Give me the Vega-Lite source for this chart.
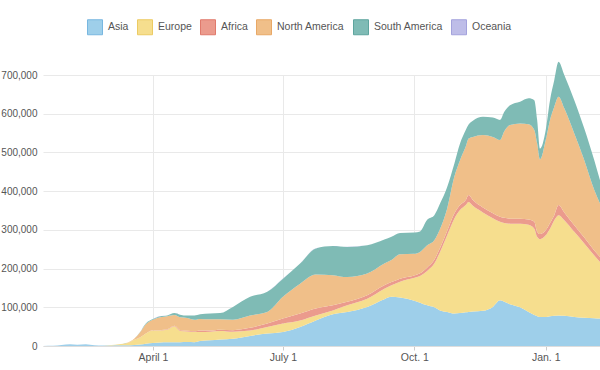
{
  "$schema": "https://vega.github.io/schema/vega-lite/v6.json",
  "width": 557,
  "height": 271,
  "autosize": {"type": "none"},
  "padding": {"left": 43, "top": 75, "right": 0, "bottom": 24},
  "background": "white",
  "config": {"view": {"stroke": null}, "font": "Liberation Sans"},
  "data": {"values": [
{"date":"2020-01-15","continent":"Asia","cases":100},{"date":"2020-01-15","continent":"Europe","cases":0},{"date":"2020-01-15","continent":"Africa","cases":0},{"date":"2020-01-15","continent":"North America","cases":0},{"date":"2020-01-15","continent":"South America","cases":0},{"date":"2020-01-15","continent":"Oceania","cases":0},
{"date":"2020-01-22","continent":"Asia","cases":500},{"date":"2020-01-22","continent":"Europe","cases":0},{"date":"2020-01-22","continent":"Africa","cases":0},{"date":"2020-01-22","continent":"North America","cases":0},{"date":"2020-01-22","continent":"South America","cases":0},{"date":"2020-01-22","continent":"Oceania","cases":0},
{"date":"2020-01-28","continent":"Asia","cases":2800},{"date":"2020-01-28","continent":"Europe","cases":0},{"date":"2020-01-28","continent":"Africa","cases":0},{"date":"2020-01-28","continent":"North America","cases":0},{"date":"2020-01-28","continent":"South America","cases":0},{"date":"2020-01-28","continent":"Oceania","cases":0},
{"date":"2020-02-03","continent":"Asia","cases":4500},{"date":"2020-02-03","continent":"Europe","cases":0},{"date":"2020-02-03","continent":"Africa","cases":0},{"date":"2020-02-03","continent":"North America","cases":0},{"date":"2020-02-03","continent":"South America","cases":0},{"date":"2020-02-03","continent":"Oceania","cases":0},
{"date":"2020-02-08","continent":"Asia","cases":3200},{"date":"2020-02-08","continent":"Europe","cases":0},{"date":"2020-02-08","continent":"Africa","cases":0},{"date":"2020-02-08","continent":"North America","cases":0},{"date":"2020-02-08","continent":"South America","cases":0},{"date":"2020-02-08","continent":"Oceania","cases":0},
{"date":"2020-02-14","continent":"Asia","cases":4800},{"date":"2020-02-14","continent":"Europe","cases":0},{"date":"2020-02-14","continent":"Africa","cases":0},{"date":"2020-02-14","continent":"North America","cases":0},{"date":"2020-02-14","continent":"South America","cases":0},{"date":"2020-02-14","continent":"Oceania","cases":0},
{"date":"2020-02-20","continent":"Asia","cases":2000},{"date":"2020-02-20","continent":"Europe","cases":0},{"date":"2020-02-20","continent":"Africa","cases":0},{"date":"2020-02-20","continent":"North America","cases":0},{"date":"2020-02-20","continent":"South America","cases":0},{"date":"2020-02-20","continent":"Oceania","cases":0},
{"date":"2020-02-26","continent":"Asia","cases":1200},{"date":"2020-02-26","continent":"Europe","cases":300},{"date":"2020-02-26","continent":"Africa","cases":0},{"date":"2020-02-26","continent":"North America","cases":0},{"date":"2020-02-26","continent":"South America","cases":0},{"date":"2020-02-26","continent":"Oceania","cases":0},
{"date":"2020-03-03","continent":"Asia","cases":1500},{"date":"2020-03-03","continent":"Europe","cases":1000},{"date":"2020-03-03","continent":"Africa","cases":0},{"date":"2020-03-03","continent":"North America","cases":100},{"date":"2020-03-03","continent":"South America","cases":0},{"date":"2020-03-03","continent":"Oceania","cases":0},
{"date":"2020-03-08","continent":"Asia","cases":1800},{"date":"2020-03-08","continent":"Europe","cases":2500},{"date":"2020-03-08","continent":"Africa","cases":0},{"date":"2020-03-08","continent":"North America","cases":300},{"date":"2020-03-08","continent":"South America","cases":0},{"date":"2020-03-08","continent":"Oceania","cases":0},
{"date":"2020-03-14","continent":"Asia","cases":2000},{"date":"2020-03-14","continent":"Europe","cases":5500},{"date":"2020-03-14","continent":"Africa","cases":50},{"date":"2020-03-14","continent":"North America","cases":1000},{"date":"2020-03-14","continent":"South America","cases":100},{"date":"2020-03-14","continent":"Oceania","cases":50},
{"date":"2020-03-19","continent":"Asia","cases":2500},{"date":"2020-03-19","continent":"Europe","cases":13500},{"date":"2020-03-19","continent":"Africa","cases":200},{"date":"2020-03-19","continent":"North America","cases":3000},{"date":"2020-03-19","continent":"South America","cases":300},{"date":"2020-03-19","continent":"Oceania","cases":100},
{"date":"2020-03-23","continent":"Asia","cases":4000},{"date":"2020-03-23","continent":"Europe","cases":18000},{"date":"2020-03-23","continent":"Africa","cases":300},{"date":"2020-03-23","continent":"North America","cases":13000},{"date":"2020-03-23","continent":"South America","cases":700},{"date":"2020-03-23","continent":"Oceania","cases":300},
{"date":"2020-03-27","continent":"Asia","cases":6000},{"date":"2020-03-27","continent":"Europe","cases":26000},{"date":"2020-03-27","continent":"Africa","cases":500},{"date":"2020-03-27","continent":"North America","cases":23500},{"date":"2020-03-27","continent":"South America","cases":2000},{"date":"2020-03-27","continent":"Oceania","cases":400},
{"date":"2020-04-01","continent":"Asia","cases":8000},{"date":"2020-04-01","continent":"Europe","cases":32000},{"date":"2020-04-01","continent":"Africa","cases":1000},{"date":"2020-04-01","continent":"North America","cases":27000},{"date":"2020-04-01","continent":"South America","cases":1500},{"date":"2020-04-01","continent":"Oceania","cases":400},
{"date":"2020-04-06","continent":"Asia","cases":9000},{"date":"2020-04-06","continent":"Europe","cases":31000},{"date":"2020-04-06","continent":"Africa","cases":1000},{"date":"2020-04-06","continent":"North America","cases":33000},{"date":"2020-04-06","continent":"South America","cases":3000},{"date":"2020-04-06","continent":"Oceania","cases":200},
{"date":"2020-04-11","continent":"Asia","cases":9500},{"date":"2020-04-11","continent":"Europe","cases":32500},{"date":"2020-04-11","continent":"Africa","cases":1000},{"date":"2020-04-11","continent":"North America","cases":34000},{"date":"2020-04-11","continent":"South America","cases":2000},{"date":"2020-04-11","continent":"Oceania","cases":100},
{"date":"2020-04-16","continent":"Asia","cases":9500},{"date":"2020-04-16","continent":"Europe","cases":41500},{"date":"2020-04-16","continent":"Africa","cases":1000},{"date":"2020-04-16","continent":"North America","cases":28000},{"date":"2020-04-16","continent":"South America","cases":5000},{"date":"2020-04-16","continent":"Oceania","cases":50},
{"date":"2020-04-20","continent":"Asia","cases":10000},{"date":"2020-04-20","continent":"Europe","cases":29000},{"date":"2020-04-20","continent":"Africa","cases":2000},{"date":"2020-04-20","continent":"North America","cases":33000},{"date":"2020-04-20","continent":"South America","cases":7000},{"date":"2020-04-20","continent":"Oceania","cases":30},
{"date":"2020-04-25","continent":"Asia","cases":10500},{"date":"2020-04-25","continent":"Europe","cases":27000},{"date":"2020-04-25","continent":"Africa","cases":2000},{"date":"2020-04-25","continent":"North America","cases":33000},{"date":"2020-04-25","continent":"South America","cases":6000},{"date":"2020-04-25","continent":"Oceania","cases":20},
{"date":"2020-04-30","continent":"Asia","cases":10000},{"date":"2020-04-30","continent":"Europe","cases":26000},{"date":"2020-04-30","continent":"Africa","cases":2000},{"date":"2020-04-30","continent":"North America","cases":30000},{"date":"2020-04-30","continent":"South America","cases":11000},{"date":"2020-04-30","continent":"Oceania","cases":20},
{"date":"2020-05-04","continent":"Asia","cases":13000},{"date":"2020-05-04","continent":"Europe","cases":23000},{"date":"2020-05-04","continent":"Africa","cases":4000},{"date":"2020-05-04","continent":"North America","cases":30000},{"date":"2020-05-04","continent":"South America","cases":12000},{"date":"2020-05-04","continent":"Oceania","cases":20},
{"date":"2020-05-11","continent":"Asia","cases":15000},{"date":"2020-05-11","continent":"Europe","cases":22000},{"date":"2020-05-11","continent":"Africa","cases":3000},{"date":"2020-05-11","continent":"North America","cases":29000},{"date":"2020-05-11","continent":"South America","cases":15000},{"date":"2020-05-11","continent":"Oceania","cases":20},
{"date":"2020-05-18","continent":"Asia","cases":17000},{"date":"2020-05-18","continent":"Europe","cases":22000},{"date":"2020-05-18","continent":"Africa","cases":3000},{"date":"2020-05-18","continent":"North America","cases":27000},{"date":"2020-05-18","continent":"South America","cases":16000},{"date":"2020-05-18","continent":"Oceania","cases":20},
{"date":"2020-05-27","continent":"Asia","cases":19000},{"date":"2020-05-27","continent":"Europe","cases":18000},{"date":"2020-05-27","continent":"Africa","cases":4000},{"date":"2020-05-27","continent":"North America","cases":27000},{"date":"2020-05-27","continent":"South America","cases":33000},{"date":"2020-05-27","continent":"Oceania","cases":20},
{"date":"2020-06-08","continent":"Asia","cases":26000},{"date":"2020-06-08","continent":"Europe","cases":14000},{"date":"2020-06-08","continent":"Africa","cases":7000},{"date":"2020-06-08","continent":"North America","cases":32000},{"date":"2020-06-08","continent":"South America","cases":48000},{"date":"2020-06-08","continent":"Oceania","cases":20},
{"date":"2020-06-20","continent":"Asia","cases":32000},{"date":"2020-06-20","continent":"Europe","cases":17000},{"date":"2020-06-20","continent":"Africa","cases":9000},{"date":"2020-06-20","continent":"North America","cases":30000},{"date":"2020-06-20","continent":"South America","cases":52000},{"date":"2020-06-20","continent":"Oceania","cases":30},
{"date":"2020-07-01","continent":"Asia","cases":36000},{"date":"2020-07-01","continent":"Europe","cases":22000},{"date":"2020-07-01","continent":"Africa","cases":13000},{"date":"2020-07-01","continent":"North America","cases":56000},{"date":"2020-07-01","continent":"South America","cases":47000},{"date":"2020-07-01","continent":"Oceania","cases":100},
{"date":"2020-07-13","continent":"Asia","cases":49000},{"date":"2020-07-13","continent":"Europe","cases":17000},{"date":"2020-07-13","continent":"Africa","cases":18000},{"date":"2020-07-13","continent":"North America","cases":77000},{"date":"2020-07-13","continent":"South America","cases":52000},{"date":"2020-07-13","continent":"Oceania","cases":250},
{"date":"2020-07-24","continent":"Asia","cases":66000},{"date":"2020-07-24","continent":"Europe","cases":13000},{"date":"2020-07-24","continent":"Africa","cases":18000},{"date":"2020-07-24","continent":"North America","cases":88000},{"date":"2020-07-24","continent":"South America","cases":67000},{"date":"2020-07-24","continent":"Oceania","cases":500},
{"date":"2020-08-05","continent":"Asia","cases":82000},{"date":"2020-08-05","continent":"Europe","cases":10000},{"date":"2020-08-05","continent":"Africa","cases":13000},{"date":"2020-08-05","continent":"North America","cases":78000},{"date":"2020-08-05","continent":"South America","cases":75000},{"date":"2020-08-05","continent":"Oceania","cases":600},
{"date":"2020-08-15","continent":"Asia","cases":88000},{"date":"2020-08-15","continent":"Europe","cases":17000},{"date":"2020-08-15","continent":"Africa","cases":9000},{"date":"2020-08-15","continent":"North America","cases":64000},{"date":"2020-08-15","continent":"South America","cases":78000},{"date":"2020-08-15","continent":"Oceania","cases":400},
{"date":"2020-08-29","continent":"Asia","cases":101000},{"date":"2020-08-29","continent":"Europe","cases":21000},{"date":"2020-08-29","continent":"Africa","cases":9000},{"date":"2020-08-29","continent":"North America","cases":56000},{"date":"2020-08-29","continent":"South America","cases":73000},{"date":"2020-08-29","continent":"Oceania","cases":150},
{"date":"2020-09-10","continent":"Asia","cases":121000},{"date":"2020-09-10","continent":"Europe","cases":27000},{"date":"2020-09-10","continent":"Africa","cases":9000},{"date":"2020-09-10","continent":"North America","cases":56000},{"date":"2020-09-10","continent":"South America","cases":62000},{"date":"2020-09-10","continent":"Oceania","cases":50},
{"date":"2020-09-15","continent":"Asia","cases":127000},{"date":"2020-09-15","continent":"Europe","cases":30000},{"date":"2020-09-15","continent":"Africa","cases":8000},{"date":"2020-09-15","continent":"North America","cases":57000},{"date":"2020-09-15","continent":"South America","cases":60000},{"date":"2020-09-15","continent":"Oceania","cases":40},
{"date":"2020-09-21","continent":"Asia","cases":125000},{"date":"2020-09-21","continent":"Europe","cases":41000},{"date":"2020-09-21","continent":"Africa","cases":8000},{"date":"2020-09-21","continent":"North America","cases":63000},{"date":"2020-09-21","continent":"South America","cases":55000},{"date":"2020-09-21","continent":"Oceania","cases":30},
{"date":"2020-10-01","continent":"Asia","cases":117000},{"date":"2020-10-01","continent":"Europe","cases":59000},{"date":"2020-10-01","continent":"Africa","cases":6000},{"date":"2020-10-01","continent":"North America","cases":56000},{"date":"2020-10-01","continent":"South America","cases":55000},{"date":"2020-10-01","continent":"Oceania","cases":20},
{"date":"2020-10-05","continent":"Asia","cases":112000},{"date":"2020-10-05","continent":"Europe","cases":69000},{"date":"2020-10-05","continent":"Africa","cases":7000},{"date":"2020-10-05","continent":"North America","cases":55000},{"date":"2020-10-05","continent":"South America","cases":53000},{"date":"2020-10-05","continent":"Oceania","cases":20},
{"date":"2020-10-10","continent":"Asia","cases":105000},{"date":"2020-10-10","continent":"Europe","cases":89000},{"date":"2020-10-10","continent":"Africa","cases":9000},{"date":"2020-10-10","continent":"North America","cases":57000},{"date":"2020-10-10","continent":"South America","cases":66000},{"date":"2020-10-10","continent":"Oceania","cases":20},
{"date":"2020-10-15","continent":"Asia","cases":100000},{"date":"2020-10-15","continent":"Europe","cases":113000},{"date":"2020-10-15","continent":"Africa","cases":10000},{"date":"2020-10-15","continent":"North America","cases":50000},{"date":"2020-10-15","continent":"South America","cases":65000},{"date":"2020-10-15","continent":"Oceania","cases":20},
{"date":"2020-10-19","continent":"Asia","cases":92000},{"date":"2020-10-19","continent":"Europe","cases":151000},{"date":"2020-10-19","continent":"Africa","cases":10000},{"date":"2020-10-19","continent":"North America","cases":49000},{"date":"2020-10-19","continent":"South America","cases":66000},{"date":"2020-10-19","continent":"Oceania","cases":20},
{"date":"2020-10-24","continent":"Asia","cases":88000},{"date":"2020-10-24","continent":"Europe","cases":198000},{"date":"2020-10-24","continent":"Africa","cases":11000},{"date":"2020-10-24","continent":"North America","cases":58000},{"date":"2020-10-24","continent":"South America","cases":56000},{"date":"2020-10-24","continent":"Oceania","cases":20},
{"date":"2020-10-29","continent":"Asia","cases":84000},{"date":"2020-10-29","continent":"Europe","cases":245000},{"date":"2020-10-29","continent":"Africa","cases":13000},{"date":"2020-10-29","continent":"North America","cases":95000},{"date":"2020-10-29","continent":"South America","cases":34000},{"date":"2020-10-29","continent":"Oceania","cases":20},
{"date":"2020-11-02","continent":"Asia","cases":85000},{"date":"2020-11-02","continent":"Europe","cases":266000},{"date":"2020-11-02","continent":"Africa","cases":13000},{"date":"2020-11-02","continent":"North America","cases":116000},{"date":"2020-11-02","continent":"South America","cases":43000},{"date":"2020-11-02","continent":"Oceania","cases":20},
{"date":"2020-11-06","continent":"Asia","cases":87000},{"date":"2020-11-06","continent":"Europe","cases":277000},{"date":"2020-11-06","continent":"Africa","cases":13000},{"date":"2020-11-06","continent":"North America","cases":138000},{"date":"2020-11-06","continent":"South America","cases":43000},{"date":"2020-11-06","continent":"Oceania","cases":20},
{"date":"2020-11-08","continent":"Asia","cases":88000},{"date":"2020-11-08","continent":"Europe","cases":284000},{"date":"2020-11-08","continent":"Africa","cases":18000},{"date":"2020-11-08","continent":"North America","cases":146000},{"date":"2020-11-08","continent":"South America","cases":36000},{"date":"2020-11-08","continent":"Oceania","cases":20},
{"date":"2020-11-11","continent":"Asia","cases":89000},{"date":"2020-11-11","continent":"Europe","cases":273000},{"date":"2020-11-11","continent":"Africa","cases":15000},{"date":"2020-11-11","continent":"North America","cases":163000},{"date":"2020-11-11","continent":"South America","cases":42000},{"date":"2020-11-11","continent":"Oceania","cases":20},
{"date":"2020-11-18","continent":"Asia","cases":91000},{"date":"2020-11-18","continent":"Europe","cases":254000},{"date":"2020-11-18","continent":"Africa","cases":13000},{"date":"2020-11-18","continent":"North America","cases":187000},{"date":"2020-11-18","continent":"South America","cases":47000},{"date":"2020-11-18","continent":"Oceania","cases":20},
{"date":"2020-11-25","continent":"Asia","cases":101000},{"date":"2020-11-25","continent":"Europe","cases":229000},{"date":"2020-11-25","continent":"Africa","cases":13000},{"date":"2020-11-25","continent":"North America","cases":197000},{"date":"2020-11-25","continent":"South America","cases":50000},{"date":"2020-11-25","continent":"Oceania","cases":20},
{"date":"2020-11-30","continent":"Asia","cases":118000},{"date":"2020-11-30","continent":"Europe","cases":203000},{"date":"2020-11-30","continent":"Africa","cases":13000},{"date":"2020-11-30","continent":"North America","cases":198000},{"date":"2020-11-30","continent":"South America","cases":52000},{"date":"2020-11-30","continent":"Oceania","cases":20},
{"date":"2020-12-03","continent":"Asia","cases":114000},{"date":"2020-12-03","continent":"Europe","cases":204000},{"date":"2020-12-03","continent":"Africa","cases":13000},{"date":"2020-12-03","continent":"North America","cases":224000},{"date":"2020-12-03","continent":"South America","cases":50000},{"date":"2020-12-03","continent":"Oceania","cases":20},
{"date":"2020-12-07","continent":"Asia","cases":108000},{"date":"2020-12-07","continent":"Europe","cases":208000},{"date":"2020-12-07","continent":"Africa","cases":13000},{"date":"2020-12-07","continent":"North America","cases":242000},{"date":"2020-12-07","continent":"South America","cases":51000},{"date":"2020-12-07","continent":"Oceania","cases":20},
{"date":"2020-12-14","continent":"Asia","cases":100000},{"date":"2020-12-14","continent":"Europe","cases":216000},{"date":"2020-12-14","continent":"Africa","cases":13000},{"date":"2020-12-14","continent":"North America","cases":246000},{"date":"2020-12-14","continent":"South America","cases":56000},{"date":"2020-12-14","continent":"Oceania","cases":20},
{"date":"2020-12-20","continent":"Asia","cases":88000},{"date":"2020-12-20","continent":"Europe","cases":225000},{"date":"2020-12-20","continent":"Africa","cases":14000},{"date":"2020-12-20","continent":"North America","cases":246000},{"date":"2020-12-20","continent":"South America","cases":67000},{"date":"2020-12-20","continent":"Oceania","cases":20},
{"date":"2020-12-24","continent":"Asia","cases":80000},{"date":"2020-12-24","continent":"Europe","cases":223000},{"date":"2020-12-24","continent":"Africa","cases":18000},{"date":"2020-12-24","continent":"North America","cases":237000},{"date":"2020-12-24","continent":"South America","cases":77000},{"date":"2020-12-24","continent":"Oceania","cases":20},
{"date":"2020-12-26","continent":"Asia","cases":77000},{"date":"2020-12-26","continent":"Europe","cases":205000},{"date":"2020-12-26","continent":"Africa","cases":13000},{"date":"2020-12-26","continent":"North America","cases":228000},{"date":"2020-12-26","continent":"South America","cases":61000},{"date":"2020-12-26","continent":"Oceania","cases":20},
{"date":"2020-12-28","continent":"Asia","cases":75000},{"date":"2020-12-28","continent":"Europe","cases":201000},{"date":"2020-12-28","continent":"Africa","cases":13000},{"date":"2020-12-28","continent":"North America","cases":193000},{"date":"2020-12-28","continent":"South America","cases":28000},{"date":"2020-12-28","continent":"Oceania","cases":20},
{"date":"2021-01-01","continent":"Asia","cases":75000},{"date":"2021-01-01","continent":"Europe","cases":211000},{"date":"2021-01-01","continent":"Africa","cases":13000},{"date":"2021-01-01","continent":"North America","cases":233000},{"date":"2021-01-01","continent":"South America","cases":26000},{"date":"2021-01-01","continent":"Oceania","cases":20},
{"date":"2021-01-04","continent":"Asia","cases":77000},{"date":"2021-01-04","continent":"Europe","cases":226000},{"date":"2021-01-04","continent":"Africa","cases":15000},{"date":"2021-01-04","continent":"North America","cases":266000},{"date":"2021-01-04","continent":"South America","cases":51000},{"date":"2021-01-04","continent":"Oceania","cases":20},
{"date":"2021-01-07","continent":"Asia","cases":78000},{"date":"2021-01-07","continent":"Europe","cases":247000},{"date":"2021-01-07","continent":"Africa","cases":13000},{"date":"2021-01-07","continent":"North America","cases":280000},{"date":"2021-01-07","continent":"South America","cases":69000},{"date":"2021-01-07","continent":"Oceania","cases":20},
{"date":"2021-01-10","continent":"Asia","cases":79000},{"date":"2021-01-10","continent":"Europe","cases":259000},{"date":"2021-01-10","continent":"Africa","cases":26000},{"date":"2021-01-10","continent":"North America","cases":280000},{"date":"2021-01-10","continent":"South America","cases":90000},{"date":"2021-01-10","continent":"Oceania","cases":20},
{"date":"2021-01-14","continent":"Asia","cases":78000},{"date":"2021-01-14","continent":"Europe","cases":247000},{"date":"2021-01-14","continent":"Africa","cases":20000},{"date":"2021-01-14","continent":"North America","cases":269000},{"date":"2021-01-14","continent":"South America","cases":86000},{"date":"2021-01-14","continent":"Oceania","cases":20},
{"date":"2021-01-21","continent":"Asia","cases":75000},{"date":"2021-01-21","continent":"Europe","cases":220000},{"date":"2021-01-21","continent":"Africa","cases":17000},{"date":"2021-01-21","continent":"North America","cases":237000},{"date":"2021-01-21","continent":"South America","cases":86000},{"date":"2021-01-21","continent":"Oceania","cases":20},
{"date":"2021-01-28","continent":"Asia","cases":73000},{"date":"2021-01-28","continent":"Europe","cases":192000},{"date":"2021-01-28","continent":"Africa","cases":15000},{"date":"2021-01-28","continent":"North America","cases":200000},{"date":"2021-01-28","continent":"South America","cases":82000},{"date":"2021-01-28","continent":"Oceania","cases":20},
{"date":"2021-02-04","continent":"Asia","cases":72000},{"date":"2021-02-04","continent":"Europe","cases":162000},{"date":"2021-02-04","continent":"Africa","cases":13000},{"date":"2021-02-04","continent":"North America","cases":156000},{"date":"2021-02-04","continent":"South America","cases":77000},{"date":"2021-02-04","continent":"Oceania","cases":20},
{"date":"2021-02-08","continent":"Asia","cases":71000},{"date":"2021-02-08","continent":"Europe","cases":146000},{"date":"2021-02-08","continent":"Africa","cases":13000},{"date":"2021-02-08","continent":"North America","cases":138000},{"date":"2021-02-08","continent":"South America","cases":60000},{"date":"2021-02-08","continent":"Oceania","cases":20}
  ]},
  "transform": [
    {"calculate": "indexof(['Asia', 'Europe', 'Africa', 'North America', 'South America', 'Oceania'], datum.continent)", "as": "stack_order"}
  ],
  "mark": {"type": "area", "interpolate": "monotone", "clip": false, "strokeWidth": 0},
  "encoding": {
    "x": {
      "field": "date", "type": "temporal",
      "scale": {"domain": [{"year": 2020, "month": 1, "date": 15, "utc": true}, {"year": 2021, "month": 2, "date": 8, "utc": true}]},
      "axis": {
        "title": null,
        "values": [{"year": 2020, "month": 4, "date": 1, "utc": true}, {"year": 2020, "month": 7, "date": 1, "utc": true}, {"year": 2020, "month": 10, "date": 1, "utc": true}, {"year": 2021, "month": 1, "date": 1, "utc": true}],
        "labelExpr": "utcmonth(datum.value) == 3 ? 'April 1' : utcmonth(datum.value) == 6 ? 'July 1' : utcmonth(datum.value) == 9 ? 'Oct. 1' : 'Jan. 1'",
        "grid": true, "gridColor": "#e9e9e9",
        "domainColor": "#dddddd", "tickColor": "#cccccc", "tickSize": 4,
        "labelColor": "#555555", "labelFontSize": 10.5, "labelPadding": 2, "labelFont": "Liberation Sans"
      }
    },
    "y": {
      "field": "cases", "type": "quantitative", "stack": "zero",
      "scale": {"domain": [0, 700000], "nice": false},
      "axis": {
        "title": null,
        "values": [0, 100000, 200000, 300000, 400000, 500000, 600000, 700000],
        "format": ",d",
        "grid": true, "gridColor": "#e9e9e9",
        "domain": false, "ticks": false,
        "labelColor": "#555555", "labelFontSize": 10, "labelPadding": 6, "labelFont": "Liberation Sans"
      }
    },
    "order": {"field": "stack_order", "type": "quantitative", "sort": "ascending"},
    "color": {
      "field": "continent", "type": "nominal",
      "sort": ["Asia", "Europe", "Africa", "North America", "South America", "Oceania"],
      "scale": {
        "domain": ["Asia", "Europe", "Africa", "North America", "South America", "Oceania"],
        "range": ["#9ecfea", "#f6de8e", "#eb9b8d", "#f0bf89", "#7fbbb5", "#bebde8"]
      },
      "legend": {
        "title": null, "orient": "none", "direction": "horizontal",
        "legendX": 44, "legendY": -56,
        "symbolType": "square", "symbolSize": 225, "symbolStrokeWidth": 1,
        "labelFontSize": 10.5, "labelColor": "#555555", "labelFont": "Liberation Sans",
        "labelOffset": 5, "columnPadding": 6
      }
    },
    "stroke": {
      "field": "continent", "type": "nominal",
      "sort": ["Asia", "Europe", "Africa", "North America", "South America", "Oceania"],
      "scale": {
        "domain": ["Asia", "Europe", "Africa", "North America", "South America", "Oceania"],
        "range": ["#78b7e0", "#eccb63", "#e07a6c", "#e8a866", "#5ea59e", "#a3a2dc"]
      },
      "legend": {
        "title": null, "orient": "none", "direction": "horizontal",
        "legendX": 44, "legendY": -56,
        "symbolType": "square", "symbolSize": 225, "symbolStrokeWidth": 1,
        "labelFontSize": 10.5, "labelColor": "#555555", "labelFont": "Liberation Sans",
        "labelOffset": 5, "columnPadding": 6
      }
    }
  }
}
